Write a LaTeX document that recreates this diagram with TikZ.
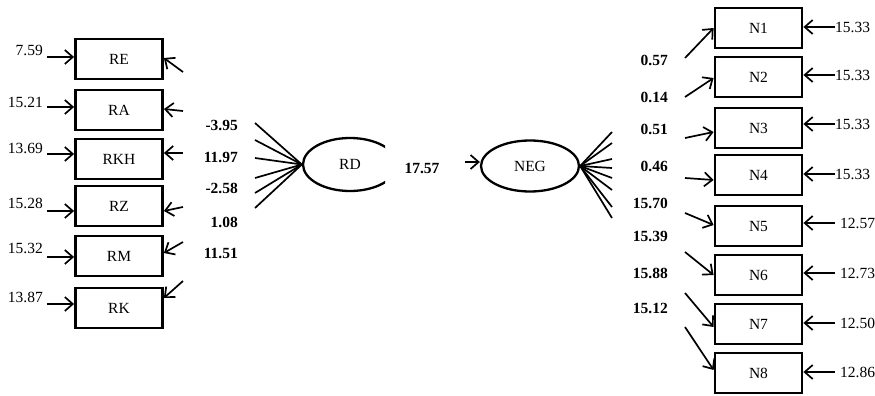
\documentclass[tikz,border=0pt]{standalone}
\usepackage{fontspec}
\setmainfont{Liberation Serif}
\usetikzlibrary{positioning, arrows.meta, shapes.geometric}

\begin{document}
\begin{tikzpicture}[x=1pt, y=-1pt,
	>={Straight Barb[length=8pt, width=14pt]},
	font=\fontsize{15.5}{17}\selectfont,
	obs/.style={draw, line width=2.8pt, minimum width=87pt, minimum height=40pt, inner sep=0pt},
	latent/.style={draw, ellipse, line width=2.3pt, inner sep=0pt},
	path/.style={line width=1.7pt},
	coef/.style={font=\fontsize{15.5}{17}\selectfont\bfseries, inner sep=0pt},
	err/.style={inner sep=0pt}]
	\useasboundingbox (0, 0) rectangle (875, 396);
	
	\foreach \n/\y in {RE/59, RA/110, RKH/159, RZ/206, RM/256, RK/308} {
		\node[obs] (\n) at (119, \y) {\n};
	};
	\foreach \n/\y in {N1/28, N2/77, N3/128, N4/175, N5/226, N6/275, N7/324, N8/373} {
		\node[obs] (\n) at (758.5, \y) {\n};
	};
	
	\begin{scope}
		\clip (290, 120) rectangle (385, 210);
		\node[latent, minimum width=94pt, minimum height=53pt] (RD) at (350, 164.5) {RD};
	\end{scope}
	\node[latent, minimum width=98pt, minimum height=51pt] (NEG) at (530, 166) {NEG};
	
	\foreach \n/\v/\ly/\ay in {RE/7.59/50/57, RA/15.21/102/107, RKH/13.69/148/154, RZ/15.28/203/211, RM/15.32/248/257, RK/13.87/297/304} {
		\node[err, anchor=east] (e\n) at (43, \ly) {\v};
		\coordinate (t\n) at (47, \ay);
		\draw[->, path] (t\n) -- (\n.west |- t\n);
	};
	
	\foreach \n/\ty/\dy in {RE/72/1, RA/111/1, RKH/153/6, RZ/207/-5, RM/242/3, RK/281/10} {
		\coordinate (s\n) at (183, \ty);
		\draw[->, path] (s\n) -- ([yshift=\dy pt]\n.east);
	};
	
	\foreach \v/\y [count=\i] in {-3.95/125, 11.97/157, -2.58/188, 1.08/222, 11.51/253} {
		\node[coef, anchor=east] (cR\i) at (238, \y) {\v};
	};
	
	\foreach \y [count=\i] in {123, 140, 158, 178, 193, 208} {
		\coordinate (fR\i) at (255, \y);
		\draw[path] (fR\i) -- (RD.west);
	};
	
	\node[coef] (cRN) at (422, 168) {17.57};
	\coordinate (sNEG) at (465, 162);
	\draw[->, path] (sNEG) -- (NEG.west |- sNEG);
	
	\foreach \y [count=\i] in {132, 143, 159, 168, 178, 190, 207, 218} {
		\coordinate (fN\i) at (612, \y);
		\draw[path] (fN\i) -- (NEG.east);
	};
	
	\foreach \v/\y [count=\i] in {0.57/60, 0.14/97, 0.51/129, 0.46/166, 15.70/203, 15.39/236, 15.88/273, 15.12/308} {
		\node[coef, anchor=east] (cN\i) at (668, \y) {\v};
	};
	
	\foreach \n/\ty/\dy in {N1/58/0, N2/97/-1, N3/138/-4, N4/178/-5, N5/213/1, N6/252/0, N7/293/-3, N8/327/3} {
		\coordinate (s\n) at (685, \ty);
		\draw[->, path] (s\n) -- ([yshift=\dy pt]\n.west);
	};
	
	\foreach \n/\v/\y/\s in {N1/15.33/27/0, N2/15.33/75/0, N3/15.33/124/0, N4/15.33/174/0, N5/12.57/223/5, N6/12.73/273/5, N7/12.50/323/5, N8/12.86/372/5} {
		\node[err, anchor=west, inner xsep=\s pt] (e\n) at (835, \y) {\v};
		\draw[->, path] (e\n.west) -- (\n.east |- e\n.west);
	};
\end{tikzpicture}
\end{document}
